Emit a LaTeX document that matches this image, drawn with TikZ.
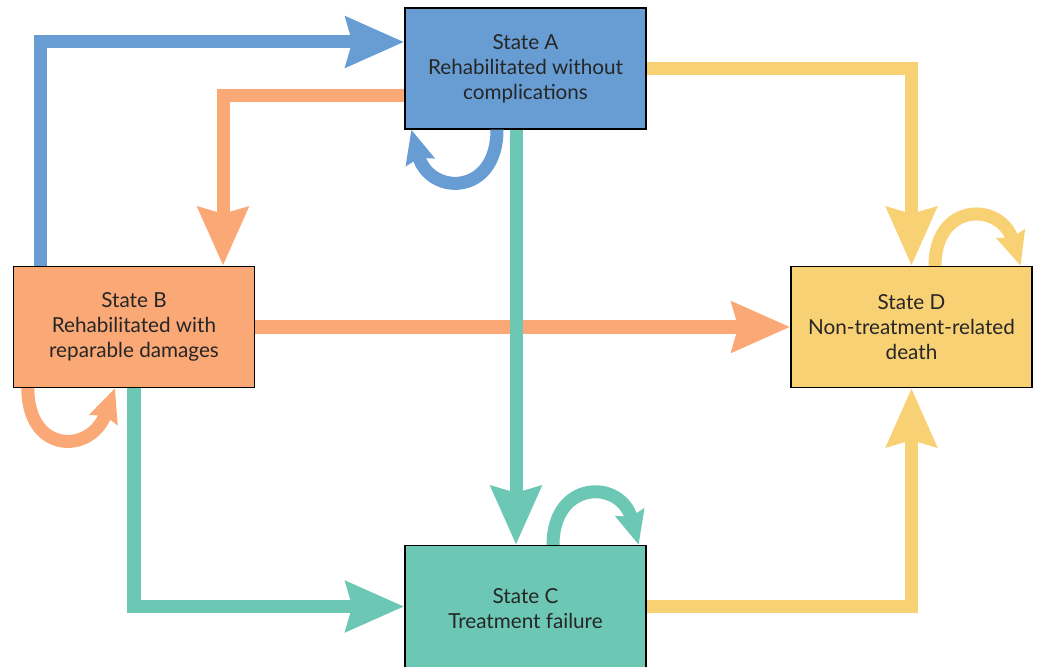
\documentclass[tikz,border=0pt]{standalone}
\usepackage{fontspec}
\setmainfont{Lato}
\usetikzlibrary{arrows.meta,calc}

\definecolor{colA}{RGB}{104,157,212}
\definecolor{colB}{RGB}{249,168,118}
\definecolor{colC}{RGB}{109,199,181}
\definecolor{colD}{RGB}{249,209,117}

\begin{document}
\begin{tikzpicture}[x=0.025cm, y=0.025cm,
  state/.style={draw=black, line width=0.9pt, minimum width=6.025cm, minimum height=3.025cm,
    inner sep=0pt, align=center, text=black!85, font=\fontsize{14.7}{17.7}\selectfont},
  flow/.style={line width=0.325cm, -{Stealth[length=1.45cm, width=1.225cm, inset=0.15cm]}},
  selfloop/.style={line width=0.325cm, -{Stealth[length=0.83cm, width=0.72cm, inset=0.1cm]}}]
  \useasboundingbox (0,0) rectangle (1040,666);

  \node[state, fill=colA] (A) at (525.5,597.5) {State A\\Rehabilitated without\\complications};
  \node[state, fill=colB] (B) at (134,339) {State B\\Rehabilitated with\\reparable damages};
  \node[state, fill=colC, minimum height=3.15cm] (C) at (525.5,57.5) {State C\\Treatment failure};
  \node[state, fill=colD] (D) at (911.5,339) {State D\\Non-treatment-related\\death};

  \draw[flow, colB] (B.east) -- (D.west);
  \draw[flow, colA] ($(B.north west)+(28,0)$) |- ($(A.west)+(0,26.5)$);
  \draw[flow, colB] ($(A.west)+(0,-27.5)$) -| ($(B.north)+(89,0)$);
  \draw[flow, colC] ($(A.south)+(-9.5,0)$) -- ($(C.north)+(-9.5,0)$);
  \draw[flow, colD] (A.east) -| (D.north);
  \draw[flow, colC] (B.south) |- ($(C.west)+(0,2)$);
  \draw[flow, colD] ($(C.east)+(0,2)$) -| (D.south);

  \draw[selfloop, colA] ($(A.south)+(-28.5,0)$) .. controls +(0,-67) and +(18,-66) .. ($(A.south west)+(7,0)$);
  \draw[selfloop, colB] ($(B.south west)+(15,0)$) .. controls +(0,-66) and +(-24,-66) .. ($(B.south)+(-19,0)$);
  \draw[selfloop, colC] ($(C.north)+(27.5,0)$) .. controls +(0,65) and +(-18,66) .. ($(C.north east)+(-8,0)$);
  \draw[selfloop, colD] ($(D.north)+(23.5,0)$) .. controls +(0,64) and +(-20,64) .. ($(D.north east)+(-12,0)$);
\end{tikzpicture}
\end{document}
